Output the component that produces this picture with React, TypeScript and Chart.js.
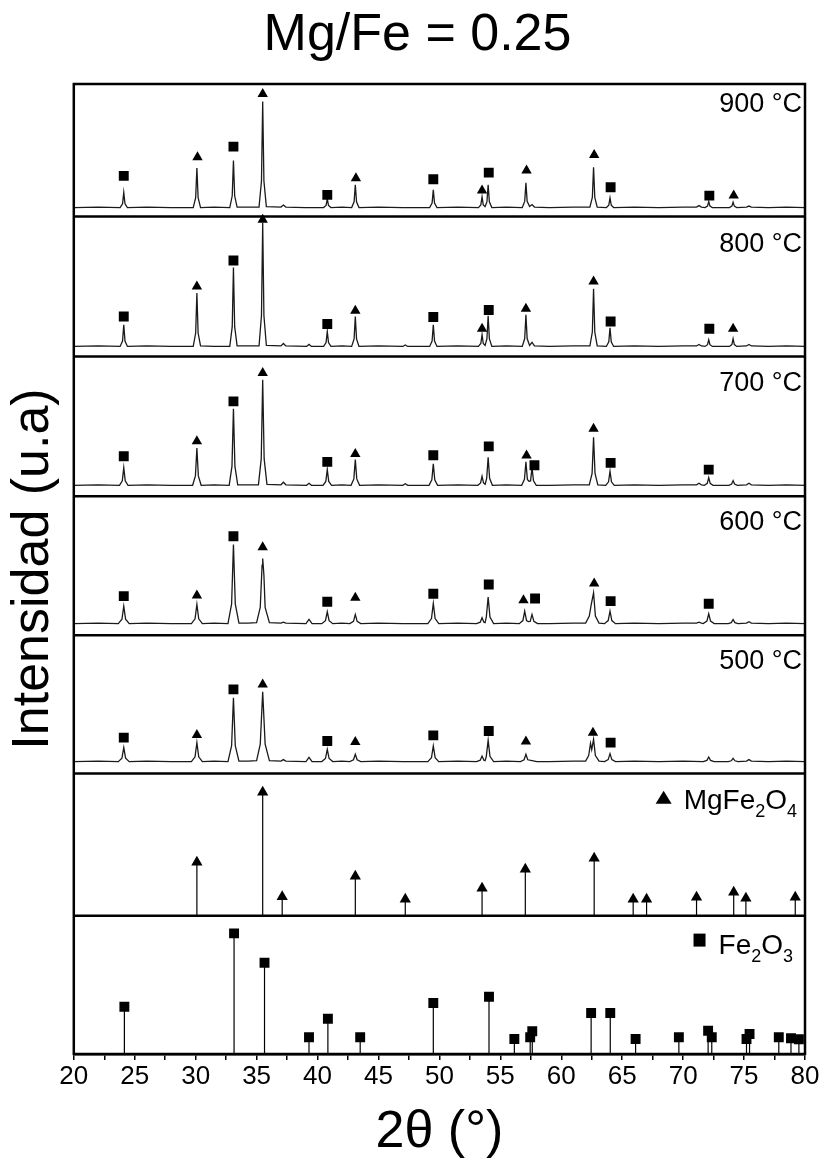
import React, { useEffect, useRef } from 'react';
import { Chart, registerables } from 'chart.js';

Chart.register(...registerables);

const FONT = '"Liberation Sans", Arial, Helvetica, sans-serif';

// ---- Measured XRD patterns: [2θ, intensity above panel floor] ----
const xrd900: number[][] = [
  [20, 9], [22, 9.5], [23.8, 9], [24.0, 12.8], [24.1, 24.2], [24.2, 12.8], [24.4, 9], [26, 9.5], [28, 9],
  [29.8, 9], [30.0, 18.9], [30.1, 48.7], [30.2, 18.9], [30.4, 9], [31.5, 9.5], [32.8, 9], [33.0, 20.8],
  [33.1, 56.2], [33.2, 20.8], [33.4, 9.5], [34.3, 9.5], [35.2, 9.5], [35.4, 35.6], [35.5, 115.2], [35.6, 35.6],
  [35.8, 10], [37.0, 9.5], [37.2, 11.5], [37.4, 9.5], [39, 9], [40.5, 9], [40.7, 11.2], [40.8, 17.7], [40.9, 11.2],
  [41.1, 9], [42, 9.5], [42.8, 9], [43.0, 14.7], [43.1, 31.7], [43.2, 14.7], [43.4, 9], [45, 9.5], [47, 9],
  [49.2, 9], [49.4, 13.4], [49.5, 26.7], [49.6, 13.4], [49.8, 9], [51.5, 9.5], [53.2, 9], [53.4, 11.7],
  [53.5, 19.7], [53.6, 11.7], [53.75, 10], [53.9, 14.7], [54.0, 31.7], [54.1, 14.7], [54.3, 9], [55.5, 9.5],
  [56.8, 9], [57.0, 15.2], [57.1, 33.7], [57.2, 15.2], [57.4, 10], [57.6, 12], [57.8, 9.5], [59, 9], [61, 9.5],
  [62.35, 9.5], [62.55, 19.1], [62.65, 49.4], [62.75, 19.1], [62.95, 9.5], [63.7, 9], [63.9, 11.4], [64.0, 18.7],
  [64.1, 11.4], [64.3, 9], [66, 9.5], [68, 9], [70, 9.5], [71.1, 9.5], [71.3, 11], [71.5, 9.5], [71.8, 9],
  [72.0, 10.5], [72.1, 15], [72.2, 10.5], [72.4, 9], [73.8, 9], [74.0, 10.4], [74.1, 14.4], [74.2, 10.4],
  [74.4, 9], [75.2, 9.5], [75.4, 10.5], [75.6, 9.5], [77, 9], [78.5, 9.5], [80, 9],
];
const xrd800: number[][] = [
  [20, 10], [22, 10.5], [23.8, 10], [24.0, 15.4], [24.1, 31.7], [24.2, 15.4], [24.4, 10], [26, 10.5], [28, 10],
  [29.8, 10], [30.0, 23.4], [30.1, 63.4], [30.2, 23.4], [30.4, 10.5], [31.5, 10], [32.8, 10], [33.0, 29.8],
  [33.1, 89], [33.2, 29.8], [33.4, 10.5], [34.3, 10.5], [35.2, 10.5], [35.4, 40.9], [35.5, 133.7], [35.6, 40.9],
  [35.8, 11], [37.0, 10.5], [37.2, 13], [37.4, 10.5], [39.1, 10], [39.3, 12], [39.5, 10], [40.5, 10], [40.7, 13.8],
  [40.8, 25], [40.9, 13.8], [41.1, 10], [42, 10.5], [42.8, 10], [43.0, 17.5], [43.1, 40], [43.2, 17.5], [43.4, 10],
  [45, 10.5], [47, 10], [47.2, 11.5], [47.4, 10], [49.2, 10], [49.4, 15.4], [49.5, 31.7], [49.6, 15.4], [49.8, 10],
  [51.5, 10.5], [53.2, 10], [53.4, 12.9], [53.5, 21.7], [53.6, 12.9], [53.75, 11], [53.9, 17.7], [54.0, 40.7],
  [54.1, 17.7], [54.3, 10], [55.5, 10.5], [56.8, 10], [57.0, 17.9], [57.1, 41.7], [57.2, 17.9], [57.4, 11],
  [57.6, 14], [57.8, 10.5], [59, 10], [61, 10.5], [62.35, 10.5], [62.55, 24.4], [62.65, 67.7], [62.75, 24.4],
  [62.95, 10.5], [63.7, 10], [63.9, 14.7], [64.0, 28.7], [64.1, 14.7], [64.3, 10], [66, 10.5], [68, 10],
  [70, 10.5], [71.1, 10.5], [71.3, 12], [71.5, 10.5], [71.8, 10], [72.0, 11.7], [72.1, 16.7], [72.2, 11.7],
  [72.4, 10], [73.8, 10], [74.0, 11.9], [74.1, 17.7], [74.2, 11.9], [74.4, 10], [75.2, 10.5], [75.4, 12],
  [75.6, 10.5], [77, 10], [78.5, 10.5], [80, 10],
];
const xrd700: number[][] = [
  [20, 11], [22, 11.5], [23.75, 11], [23.98, 15.4], [24.1, 28.7], [24.22, 15.4], [24.45, 11], [26, 11.5], [28, 11],
  [29.75, 11], [29.98, 20.4], [30.1, 48.4], [30.22, 20.4], [30.45, 11], [31.5, 11.5], [32.75, 11], [32.98, 30.2],
  [33.1, 87.7], [33.22, 30.2], [33.45, 11.5], [34.3, 11.5], [35.15, 11.5], [35.38, 37.4], [35.5, 116.7],
  [35.62, 37.4], [35.85, 12], [37.0, 11.5], [37.2, 14], [37.4, 11.5], [39.1, 11], [39.3, 13], [39.5, 11],
  [40.45, 11], [40.68, 14.9], [40.8, 26.7], [40.92, 14.9], [41.15, 11], [42, 11.5], [42.75, 11], [42.98, 17.4],
  [43.1, 36.7], [43.22, 17.4], [43.45, 11], [45, 11.5], [47, 11], [47.2, 12.5], [47.4, 11], [49.15, 11],
  [49.38, 16.4], [49.5, 32.4], [49.62, 16.4], [49.85, 11], [51.5, 11.5], [53.15, 11], [53.38, 13.3], [53.5, 20],
  [53.62, 13.3], [53.75, 12], [53.88, 18], [54.0, 39], [54.12, 18], [54.35, 11], [55.5, 11.5], [56.75, 11],
  [56.98, 16.9], [57.1, 34.4], [57.22, 16.9], [57.35, 15], [57.48, 15.4], [57.6, 28.7], [57.72, 15.4],
  [57.95, 11], [59, 11], [61, 11.5], [62.3, 11.5], [62.53, 23], [62.65, 59], [62.77, 23], [63.0, 11.5],
  [63.65, 11], [63.88, 14.5], [64.0, 25], [64.12, 14.5], [64.35, 11], [66, 11.5], [68, 11], [70, 11.5],
  [71.1, 11.5], [71.3, 13], [71.5, 11.5], [71.75, 11], [71.98, 12.9], [72.1, 18.7], [72.22, 12.9], [72.45, 11],
  [73.75, 11], [73.98, 12.2], [74.1, 15.7], [74.22, 12.2], [74.45, 11], [75.2, 11.5], [75.4, 13], [75.6, 11.5],
  [77, 11], [78.5, 11.5], [80, 11],
];
const xrd600: number[][] = [
  [20, 11.5], [22, 12], [23.65, 11.5], [23.95, 15.9], [24.1, 29], [24.25, 15.9], [24.55, 11.5], [26, 12],
  [28, 11.5], [29.65, 11.5], [29.95, 16.3], [30.1, 30.7], [30.25, 16.3], [30.55, 11.5], [31.5, 12], [32.65, 11.5],
  [32.95, 31.3], [33.1, 90.7], [33.25, 31.3], [33.55, 12], [34.3, 12], [35.0, 12.5], [35.3, 27.8], [35.45, 70],
  [35.5, 76.7], [35.6, 60], [35.7, 27.8], [36.05, 12.5], [37.0, 12], [37.2, 13], [37.4, 12], [39.05, 11.5],
  [39.3, 15.7], [39.55, 11.5], [40.35, 11.5], [40.65, 14.5], [40.8, 23.4], [40.95, 14.5], [41.25, 11.5], [42, 12],
  [42.65, 11.5], [42.95, 13.8], [43.1, 20.7], [43.25, 13.8], [43.55, 11.5], [45, 12], [47, 11.5], [49.05, 11.5],
  [49.35, 16.6], [49.5, 31.7], [49.65, 16.6], [49.95, 11.5], [51.5, 12], [53.05, 11.5], [53.35, 13], [53.5, 17.4],
  [53.65, 13], [53.75, 12.5], [53.85, 18.1], [54.0, 38], [54.15, 18.1], [54.45, 11.5], [55.5, 12], [56.55, 11.5],
  [56.85, 14.6], [57.0, 24], [57.15, 14.6], [57.3, 13.5], [57.45, 13.8], [57.6, 20.7], [57.75, 13.8],
  [58.05, 11.5], [59, 11.5], [61, 12], [62.0, 12], [62.3, 19], [62.45, 30], [62.65, 42.4], [62.8, 19.2],
  [63.1, 12], [63.55, 11.5], [63.85, 14.6], [64.0, 24], [64.15, 14.6], [64.45, 11.5], [66, 12], [68, 11.5],
  [70, 12], [71.1, 12], [71.3, 13], [71.5, 12], [71.65, 11.5], [71.95, 14], [72.1, 21.4], [72.25, 14],
  [72.55, 11.5], [73.7, 11.5], [73.95, 12.5], [74.1, 15.7], [74.25, 12.5], [74.5, 11.5], [75.2, 12], [75.4, 13.5],
  [75.6, 12], [77, 11.5], [78.5, 12], [80, 11.5],
];
const xrd500: number[][] = [
  [20, 12], [22, 12.5], [23.65, 12], [23.95, 15.5], [24.1, 26], [24.25, 15.5], [24.55, 12], [26, 12.5], [28, 12],
  [29.65, 12], [29.95, 16.8], [30.1, 31], [30.25, 16.8], [30.55, 12], [31.5, 12.5], [32.65, 12], [32.95, 28],
  [33.1, 76], [33.25, 28], [33.55, 12.5], [34.3, 12.5], [35.0, 13], [35.3, 29.5], [35.5, 82], [35.7, 29.5],
  [36.05, 13], [37.0, 12.5], [37.2, 14], [37.4, 12.5], [39.05, 12], [39.3, 16.3], [39.55, 12], [40.35, 12],
  [40.65, 15.1], [40.8, 24.3], [40.95, 15.1], [41.25, 12], [42, 12.5], [42.65, 12], [42.95, 13.8], [43.1, 19.3],
  [43.25, 13.8], [43.55, 12], [45, 12.5], [47, 12], [49.05, 12], [49.35, 15.9], [49.5, 27.6], [49.65, 15.9],
  [49.95, 12], [51.5, 12.5], [53.05, 12], [53.35, 13.4], [53.5, 17.6], [53.65, 13.4], [53.75, 13], [53.85, 17.3],
  [54.0, 33.3], [54.15, 17.3], [54.45, 12], [55.5, 12.5], [56.65, 12], [56.95, 13.8], [57.1, 19.3], [57.25, 13.8],
  [57.6, 13], [58, 12], [59, 12], [61, 12.5], [62.0, 12.5], [62.25, 18], [62.4, 30.3], [62.5, 24], [62.65, 34.3],
  [62.8, 18], [63.1, 12.5], [63.55, 12], [63.85, 14], [64.0, 20], [64.15, 14], [64.45, 12], [66, 12.5], [68, 12],
  [70, 12.5], [71.65, 12], [71.95, 13.2], [72.1, 16.6], [72.25, 13.2], [72.55, 12], [73.7, 12], [73.95, 12.8],
  [74.1, 15.3], [74.25, 12.8], [74.5, 12], [75.2, 12.5], [75.4, 14], [75.6, 12.5], [77, 12], [78.5, 12.5],
  [80, 12],
];

// ---- Phase markers over the measured patterns: [2θ, height] ----
const sq900 = [[24.1, 40.7], [33.1, 70], [40.8, 21.7], [49.5, 37.4], [54.05, 44], [64.05, 29.4], [72.15, 21]];
const tri900 = [[30.15, 59.4], [35.5, 122.7], [43.15, 38.4], [53.5, 26], [57.15, 46], [62.7, 61.7], [74.15, 21]];
const sq800 = [[24.1, 40], [33.1, 96], [40.8, 32.4], [49.5, 39.4], [54.05, 46.4], [64.05, 35], [72.15, 27.7]];
const tri800 = [[30.1, 70], [35.5, 136.7], [43.1, 45.7], [53.5, 27.7], [57.1, 47.7], [62.65, 75], [74.1, 27.7]];
const sq700 = [[24.1, 40], [33.1, 95], [40.8, 34.4], [49.5, 41], [54.05, 50], [57.8, 31], [64.05, 33.4], [72.1, 26.7]];
const tri700 = [[30.1, 55], [35.5, 123.4], [43.1, 42.4], [57.15, 40.7], [62.65, 67.7]];
const sq600 = [[24.1, 39], [33.1, 99], [40.8, 33.4], [49.5, 41.4], [54.05, 50.7], [57.85, 36.7], [64.05, 34], [72.1, 31.4]];
const tri600 = [[30.1, 39.7], [35.5, 88], [43.1, 37.4], [56.9, 35], [62.7, 51.7]];
const sq500 = [[24.1, 36], [33.1, 84.3], [40.8, 32.6], [49.5, 38.3], [54.05, 42.6], [64.05, 31]];
const tri500 = [[30.1, 38.6], [35.5, 89.3], [43.1, 31.6], [57.1, 32], [62.6, 41]];

// ---- Reference patterns (sticks) ----
const mgPos = [30.1, 35.5, 37.1, 43.1, 47.2, 53.5, 57.05, 62.7, 65.9, 67.0, 71.1, 74.15, 75.15, 79.2];
const mgInt = [53.7, 123.7, 19, 39.7, 16.7, 27.7, 46.7, 57.7, 16.7, 16.7, 18.7, 23.7, 17.7, 18.7];
const fePos = [24.15, 33.15, 35.65, 39.3, 40.85, 43.5, 49.5, 54.07, 56.15, 57.45, 57.62, 62.45, 64.02, 66.1,
  69.65, 72.05, 72.35, 75.2, 75.45, 77.85, 78.85, 79.5];
const feInt = [47.3, 120.7, 91.3, 16.7, 35.3, 16.7, 51, 57.3, 15, 16.7, 22.7, 41, 41, 15, 16.7, 23.3, 16.7, 15,
  20, 16.7, 15.7, 14.7];

const TEMPS = ['900 °C', '800 °C', '700 °C', '600 °C', '500 °C'];
const X_TICKS_STEP = 2.5;

// layout: floor of each stacked panel on the shared y scale (top → bottom)
const PANEL_BASE = [838.3, 698.3, 558.3, 419.3, 280.7, 138.3, 0];
const Y_MAX = 971;
const LABEL_Y = 105;

function drawFormula(ctx: any, parts: [string, boolean][], right: number, baseline: number, symbol: string) {
  const main = `28px ${FONT}`;
  const sub = `18px ${FONT}`;
  let total = 0;
  const widths = parts.map(([t, s]) => {
    ctx.font = s ? sub : main;
    const w = ctx.measureText(t).width;
    total += w;
    return w;
  });
  let x = right - total;
  const start = x;
  ctx.textAlign = 'left';
  ctx.textBaseline = 'alphabetic';
  parts.forEach(([t, s], i) => {
    ctx.font = s ? sub : main;
    ctx.fillText(t, x, s ? baseline + 8 : baseline);
    x += widths[i];
  });
  ctx.beginPath();
  if (symbol === 'triangle') {
    const cx = start - 20;
    const cy = baseline - 11.5;
    ctx.moveTo(cx, cy - 7);
    ctx.lineTo(cx + 8, cy + 6);
    ctx.lineTo(cx - 8, cy + 6);
    ctx.closePath();
  } else {
    const cx = start - 19;
    const cy = baseline - 14;
    ctx.rect(cx - 6, cy - 6.5, 12, 13);
  }
  ctx.fill();
}

const panelPlugin = {
  id: 'panelDecor',
  afterDatasetsDraw(chart: any) {
    const { ctx, chartArea: a, scales } = chart;
    const y = scales.y;
    ctx.save();
    ctx.strokeStyle = '#000';
    ctx.lineWidth = 2.5;
    PANEL_BASE.slice(0, -1).forEach((b) => {
      const py = y.getPixelForValue(b);
      ctx.beginPath();
      ctx.moveTo(a.left, py);
      ctx.lineTo(a.right, py);
      ctx.stroke();
    });
    ctx.strokeRect(a.left, a.top, a.right - a.left, a.bottom - a.top);

    ctx.fillStyle = '#000';
    ctx.font = `27px ${FONT}`;
    ctx.textAlign = 'right';
    ctx.textBaseline = 'alphabetic';
    TEMPS.forEach((t, i) => {
      ctx.fillText(t, a.right - 3, y.getPixelForValue(PANEL_BASE[i] + LABEL_Y));
    });
    drawFormula(ctx, [['MgFe', false], ['2', true], ['O', false], ['4', true]], a.right - 8,
      y.getPixelForValue(PANEL_BASE[5] + 106.7), 'triangle');
    drawFormula(ctx, [['Fe', false], ['2', true], ['O', false], ['3', true]], a.right - 12,
      y.getPixelForValue(PANEL_BASE[6] + 100), 'square');
    ctx.restore();
  },
};

export default function App() {
  const ref = useRef<HTMLCanvasElement>(null);

  useEffect(() => {
    const shift = (pts: number[][], base: number) => pts.map(([x, v]) => ({ x, y: v + base }));
    const sticks = (xs: number[], hs: number[], base: number) => {
      const out: any[] = [];
      xs.forEach((x, i) => {
        out.push({ x, y: base }, { x, y: base + hs[i] }, { x, y: null });
      });
      return out;
    };
    const patterns = [xrd900, xrd800, xrd700, xrd600, xrd500];
    const squares = [sq900, sq800, sq700, sq600, sq500];
    const triangles = [tri900, tri800, tri700, tri600, tri500];

    const lineDs = patterns.map((p, i) => ({
      label: TEMPS[i],
      data: shift(p, PANEL_BASE[i]),
      showLine: true,
      borderColor: '#1a1a1a',
      borderWidth: 1.3,
      pointRadius: 0,
      tension: 0,
      order: 2,
    }));
    const sqData = squares.flatMap((s, i) => shift(s, PANEL_BASE[i]));
    const triData = triangles.flatMap((s, i) => shift(s, PANEL_BASE[i]));
    const feMarkers = fePos.map((x, i) => ({ x, y: feInt[i] + PANEL_BASE[6] }));
    const mgMarkers = mgPos.map((x, i) => ({ x, y: mgInt[i] + PANEL_BASE[5] }));

    const markerDs = (label: string, data: any[], style: string, r: number) => ({
      label,
      data,
      showLine: false,
      pointStyle: style,
      pointRadius: r,
      pointHoverRadius: r,
      pointBackgroundColor: '#000',
      pointBorderColor: '#000',
      pointBorderWidth: 0,
      order: 0,
    });

    const chart = new Chart(ref.current as HTMLCanvasElement, {
      type: 'scatter',
      data: {
        datasets: [
          markerDs('Fe2O3 (muestras)', sqData, 'rect', 7),
          markerDs('MgFe2O4 (muestras)', triData, 'triangle', 6),
          markerDs('Fe2O3 ref', feMarkers, 'rect', 7),
          markerDs('MgFe2O4 ref', mgMarkers, 'triangle', 6.5),
          {
            label: 'MgFe2O4 sticks',
            data: sticks(mgPos, mgInt, PANEL_BASE[5]),
            showLine: true,
            spanGaps: false,
            borderColor: '#000',
            borderWidth: 1.2,
            pointRadius: 0,
            order: 1,
          },
          {
            label: 'Fe2O3 sticks',
            data: sticks(fePos, feInt, PANEL_BASE[6]),
            showLine: true,
            spanGaps: false,
            borderColor: '#000',
            borderWidth: 1.2,
            pointRadius: 0,
            order: 1,
          },
          ...lineDs,
        ] as any,
      },
      options: {
        animation: false,
        responsive: false,
        devicePixelRatio: 1,
        events: [],
        layout: { padding: { left: 30, right: 19, top: 0, bottom: 0 } },
        plugins: {
          legend: { display: false },
          tooltip: { enabled: false },
          title: {
            display: true,
            text: 'Mg/Fe = 0.25',
            color: '#000',
            font: { size: 52, weight: 'normal', family: FONT },
            padding: { top: 4, bottom: 17.6 },
          },
        },
        scales: {
          x: {
            type: 'linear',
            min: 20,
            max: 80,
            ticks: {
              stepSize: X_TICKS_STEP,
              autoSkip: false,
              maxRotation: 0,
              minRotation: 0,
              padding: 1,
              color: '#000',
              font: { size: 26, family: FONT },
              callback: (v: any) => (Number(v) % 5 === 0 ? String(v) : ''),
            },
            grid: {
              display: true,
              drawOnChartArea: false,
              drawTicks: true,
              tickLength: 6,
              color: '#000',
              lineWidth: 1.5,
            },
            border: { display: true, color: '#000', width: 2.5 },
            title: {
              display: true,
              text: '2θ (°)',
              color: '#000',
              font: { size: 52, family: FONT },
              padding: { top: 8.4, bottom: 0 },
            },
          },
          y: {
            type: 'linear',
            min: 0,
            max: Y_MAX,
            ticks: { display: false },
            grid: { display: false, drawTicks: false },
            border: { display: false },
            title: {
              display: true,
              text: 'Intensidad (u.a)',
              color: '#000',
              font: { size: 52, family: FONT, lineHeight: 0.15 },
              padding: { top: 0, bottom: 36 },
            },
          },
        },
      } as any,
      plugins: [panelPlugin],
    });
    return () => chart.destroy();
  }, []);

  return (
    <div style={{ position: 'absolute', left: 0, top: 0, width: 824, height: 1164, background: '#fff' }}>
      <canvas ref={ref} width={824} height={1164} style={{ display: 'block', width: 824, height: 1164 }} />
    </div>
  );
}
